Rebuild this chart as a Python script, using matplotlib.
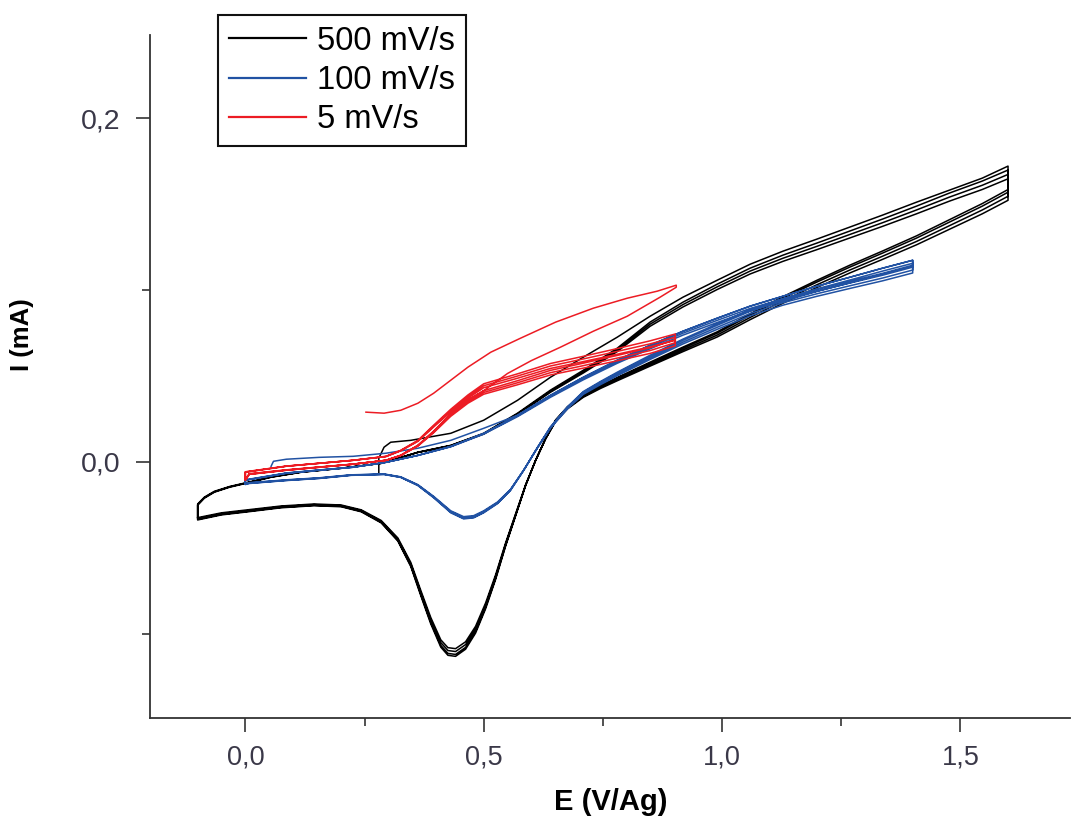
import matplotlib.pyplot as plt
from matplotlib import font_manager
from matplotlib.ticker import FixedLocator, FuncFormatter

# ---- values: E (V/Ag), I (mA) ----
# 500 mV/s: first forward sweep starts at ~0.28 V
black_first_E = [0.280, 0.280, 0.291, 0.305, 0.347, 0.431, 0.500, 0.571, 0.640, 0.709, 0.780,
                 0.849, 0.918, 0.990, 1.059, 1.128, 1.199, 1.268, 1.337, 1.408, 1.477, 1.546, 1.600]
black_first_I = [-0.0066, 0.0022, 0.0086, 0.0115, 0.0126, 0.0167, 0.0243, 0.0359, 0.0493, 0.0610, 0.0726,
                 0.0848, 0.0959, 0.1058, 0.1151, 0.1227, 0.1297, 0.1367, 0.1437, 0.1512, 0.1582, 0.1652, 0.1722]
black_fwd_E = [-0.100, -0.086, -0.065, -0.033, 0.002, 0.054, 0.117, 0.201, 0.285, 0.362, 0.431, 0.500,
               0.571, 0.640, 0.709, 0.780, 0.849, 0.918, 0.990, 1.059, 1.128, 1.199, 1.268, 1.337,
               1.408, 1.477, 1.546, 1.600]
black_fwd_I = [-0.0252, -0.0211, -0.0176, -0.0147, -0.0124, -0.0089, -0.0060, -0.0037, -0.0008, 0.0057,
               0.0097, 0.0167, 0.0284, 0.0418, 0.0534, 0.0662, 0.0814, 0.0930, 0.1035, 0.1128, 0.1204,
               0.1274, 0.1344, 0.1414, 0.1489, 0.1565, 0.1635, 0.1699]
black_rev_E = [1.600, 1.546, 1.477, 1.408, 1.337, 1.268, 1.199, 1.128, 1.059, 0.990, 0.918, 0.849, 0.780,
               0.745, 0.709, 0.676, 0.651, 0.630, 0.609, 0.588, 0.567, 0.546, 0.525, 0.504, 0.483, 0.462,
               0.441, 0.425, 0.410, 0.389, 0.368, 0.347, 0.320, 0.285, 0.243, 0.201, 0.144, 0.075, 0.006,
               -0.050, -0.100]
black_rev_I = [0.1570, 0.1489, 0.1396, 0.1303, 0.1216, 0.1134, 0.1047, 0.0953, 0.0854, 0.0750, 0.0662,
               0.0575, 0.0487, 0.0441, 0.0388, 0.0319, 0.0243, 0.0138, 0.0010, -0.0136, -0.0310, -0.0485,
               -0.0677, -0.0846, -0.0986, -0.1079, -0.1120, -0.1114, -0.1067, -0.0933, -0.0770, -0.0602,
               -0.0456, -0.0351, -0.0287, -0.0258, -0.0252, -0.0264, -0.0287, -0.0305, -0.0334]
black_cycles = [1.0, 0.985, 0.97]

# 100 mV/s
blue_first_E = [0.054, 0.059, 0.086, 0.155, 0.226, 0.295, 0.362, 0.431, 0.500]
blue_first_I = [-0.0025, 0.0004, 0.0016, 0.0027, 0.0033, 0.0051, 0.0080, 0.0126, 0.0196]
blue_fwd_E = [0.0, 0.086, 0.155, 0.226, 0.295, 0.362, 0.431, 0.500, 0.571, 0.640, 0.709, 0.780, 0.849,
              0.918, 0.990, 1.059, 1.128, 1.199, 1.268, 1.337, 1.400]
blue_fwd_I = [-0.0107, -0.0066, -0.0048, -0.0031, -0.0002, 0.0039, 0.0091, 0.0167, 0.0272, 0.0388,
              0.0493, 0.0592, 0.0679, 0.0761, 0.0837, 0.0907, 0.0965, 0.1023, 0.1075, 0.1128, 0.1174]
blue_rev_E = [1.400, 1.337, 1.268, 1.199, 1.128, 1.059, 0.990, 0.918, 0.849, 0.780, 0.745, 0.709, 0.676,
              0.640, 0.613, 0.584, 0.556, 0.529, 0.500, 0.479, 0.458, 0.431, 0.395, 0.362, 0.326, 0.291,
              0.222, 0.155, 0.086, 0.008, 0.0]
blue_rev_I = [0.1134, 0.1087, 0.1041, 0.0994, 0.0941, 0.0877, 0.0796, 0.0708, 0.0615, 0.0517, 0.0464,
              0.0406, 0.0319, 0.0202, 0.0085, -0.0048, -0.0165, -0.0240, -0.0293, -0.0322, -0.0328,
              -0.0293, -0.0206, -0.0136, -0.0089, -0.0072, -0.0077, -0.0095, -0.0107, -0.0124, -0.0130]
blue_cycles = [1.0, 0.985, 0.97]

# 5 mV/s: first sweep starts at ~0.25 V, its return meets the stable loop near 0.55 V
red_first_E = [0.253, 0.291, 0.326, 0.362, 0.395, 0.431, 0.467, 0.515, 0.577, 0.651, 0.730, 0.801, 0.864,
               0.904, 0.904, 0.870, 0.801, 0.730, 0.661, 0.600, 0.550]
red_first_I = [0.0290, 0.0284, 0.0301, 0.0342, 0.0400, 0.0476, 0.0552, 0.0639, 0.0720, 0.0814, 0.0895,
               0.0953, 0.0994, 0.1029, 0.1017, 0.0959, 0.0848, 0.0761, 0.0668, 0.0590, 0.0515]
red_fwd_E = [0.0, 0.086, 0.155, 0.226, 0.295, 0.326, 0.362, 0.395, 0.431, 0.467, 0.500, 0.571, 0.640,
             0.709, 0.780, 0.849, 0.902]
red_fwd_I = [-0.0060, -0.0025, -0.0008, 0.0010, 0.0033, 0.0068, 0.0126, 0.0214, 0.0307, 0.0390, 0.0455,
             0.0513, 0.0573, 0.0615, 0.0660, 0.0705, 0.0745]
red_rev_E = [0.902, 0.849, 0.780, 0.709, 0.640, 0.571, 0.500, 0.467, 0.431, 0.395, 0.362, 0.326, 0.295,
             0.226, 0.155, 0.086, 0.008, 0.0]
red_rev_I = [0.0712, 0.0665, 0.0620, 0.0575, 0.0533, 0.0473, 0.0415, 0.0360, 0.0280, 0.0179, 0.0097,
             0.0039, 0.0010, -0.0013, -0.0031, -0.0048, -0.0072, -0.0107]
red_cycles = [1.0, 0.975, 0.95]

labels = ["500 mV/s", "100 mV/s", "5 mV/s"]
colors = ["#000000", "#2152a3", "#ec1c24"]


def chain(first_E, first_I, fwd_E, fwd_I, rev_E, rev_I, cycles,
          first_returns=False, first_rev_scale=1.0):
    """First sweep, the rest of its loop, then the repeated cycles as one trace."""
    E, I = list(first_E), list(first_I)
    if not first_returns:
        # first sweep still going up: finish on the forward branch, then come back
        tail = [k for k, e in enumerate(fwd_E) if e > first_E[-1]]
        E += [fwd_E[k] for k in tail]
        I += [fwd_I[k] for k in tail]
        E += list(rev_E)
        I += [v * first_rev_scale for v in rev_I]
    else:
        # first sweep already on its way back: join the reverse branch
        tail = [k for k, e in enumerate(rev_E) if e < first_E[-1]]
        E += [rev_E[k] for k in tail]
        I += [rev_I[k] for k in tail]
    for s in cycles:
        E += list(fwd_E) + list(rev_E)
        I += [v * s for v in fwd_I] + [v * s for v in rev_I]
    return E, I


names = {f.name for f in font_manager.fontManager.ttflist}
base = "Liberation Sans" if "Liberation Sans" in names else "DejaVu Sans"
narrow = "Liberation Sans Narrow" if "Liberation Sans Narrow" in names else base
plt.rcParams["font.family"] = [base, "DejaVu Sans"]

fig = plt.figure(figsize=(10.72, 8.23), dpi=100)
ax = fig.add_axes([150 / 1072, 1 - 718 / 823, 920 / 1072, 683 / 823])

bE, bI = chain(black_first_E, black_first_I, black_fwd_E, black_fwd_I,
               black_rev_E, black_rev_I, black_cycles, first_rev_scale=1.01)
ax.plot(bE, bI, color=colors[0], lw=1.1, label=labels[0])

uE, uI = chain(blue_first_E, blue_first_I, blue_fwd_E, blue_fwd_I,
               blue_rev_E, blue_rev_I, blue_cycles, first_rev_scale=1.01)
ax.plot(uE, uI, color=colors[1], lw=1.1, label=labels[1])

rE, rI = chain(red_first_E, red_first_I, red_fwd_E, red_fwd_I,
               red_rev_E, red_rev_I, red_cycles, first_returns=True)
ax.plot(rE, rI, color=colors[2], lw=1.1, label=labels[2])

ax.set_xlim(-0.2, 1.73)
ax.set_ylim(-0.149, 0.2485)

ax.xaxis.set_major_locator(FixedLocator([0.0, 0.5, 1.0, 1.5]))
ax.xaxis.set_minor_locator(FixedLocator([0.25, 0.75, 1.25]))
ax.yaxis.set_major_locator(FixedLocator([0.0, 0.2]))
ax.yaxis.set_minor_locator(FixedLocator([-0.1, 0.1]))
comma = FuncFormatter(lambda v, pos: f"{v:.1f}".replace(".", ","))
ax.xaxis.set_major_formatter(comma)
ax.yaxis.set_major_formatter(comma)

tick_col = "#3a3848"
ax.tick_params(which="major", direction="out", length=10, width=1.1, color="#222222",
               labelsize=19.5, labelcolor=tick_col, pad=9)
ax.tick_params(axis="y", which="major", labelsize=20.5, pad=11)
ax.tick_params(which="minor", direction="out", length=5.5, width=1.1, color="#222222")

for side in ["top", "right"]:
    ax.spines[side].set_visible(False)
for side in ["left", "bottom"]:
    ax.spines[side].set_linewidth(1.3)
    ax.spines[side].set_color("#333333")

ax.set_xlabel("E (V/Ag)", fontsize=21, fontweight="bold", family=[base, "DejaVu Sans"])
ax.xaxis.set_label_coords(0.501, -0.103)
ax.set_ylabel("I (mA)", fontsize=18.5, fontweight="bold", family=[narrow, "DejaVu Sans"])
ax.yaxis.set_label_coords(-0.126, 0.562)

leg = ax.legend(loc="upper left", bbox_to_anchor=(218 / 1072, 1 - 15 / 823),
                bbox_transform=fig.transFigure, borderaxespad=0, fancybox=False,
                framealpha=1, edgecolor="#111111", fontsize=23.5, handlelength=2.36,
                handletextpad=0.34, borderpad=0.33, labelspacing=0.25)
leg.get_frame().set_linewidth(1.5)
for line in leg.get_lines():
    line.set_linewidth(1.6)

fig.savefig("out.png", dpi=100)
